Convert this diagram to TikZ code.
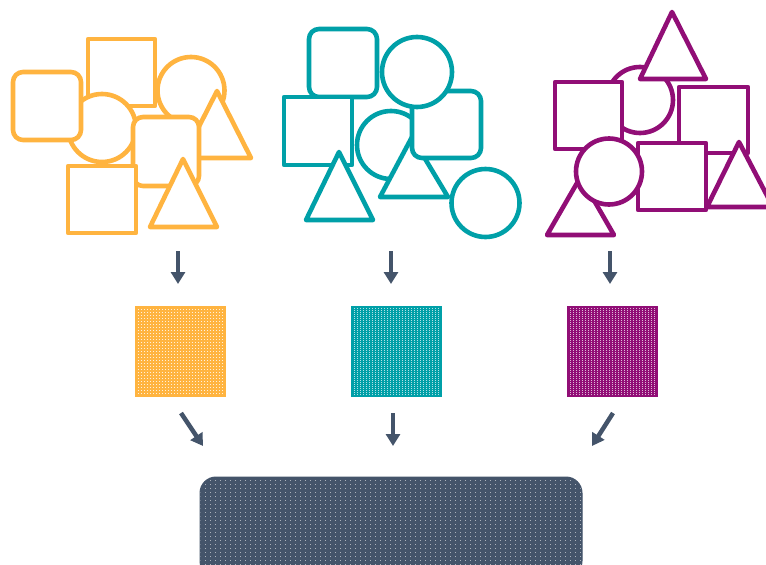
\documentclass[tikz,border=0pt]{standalone}
\usetikzlibrary{arrows.meta,patterns}
\definecolor{cOr}{HTML}{FFB440}
\definecolor{cTe}{HTML}{00A0A8}
\definecolor{cMa}{HTML}{910E76}
\definecolor{cNa}{HTML}{44546A}
\pgfdeclarepatternformonly{sqdots}{\pgfpoint{-1pt}{-1pt}}{\pgfpoint{3pt}{3pt}}{\pgfpoint{3pt}{3pt}}{\pgfpathrectangle{\pgfpoint{0pt}{0pt}}{\pgfpoint{1.4pt}{1.4pt}}\pgfusepath{fill}}
\pgfdeclarepatternformonly{vdots}{\pgfpoint{-1pt}{-1pt}}{\pgfpoint{3pt}{3pt}}{\pgfpoint{3pt}{2pt}}{\pgfpathrectangle{\pgfpoint{0pt}{0pt}}{\pgfpoint{1pt}{1pt}}\pgfusepath{fill}}
\pgfdeclarepatternformonly{sparsedots}{\pgfpoint{-1pt}{-1pt}}{\pgfpoint{5pt}{5pt}}{\pgfpoint{5pt}{4pt}}{\pgfpathrectangle{\pgfpoint{0pt}{0pt}}{\pgfpoint{1.2pt}{1.2pt}}\pgfusepath{fill}}
\begin{document}
\begin{tikzpicture}[x=1pt,y=-1pt,
  shp/.style={line width=4.6pt, fill=white, line join=round},
  orshp/.style={shp, draw=cOr},
  teshp/.style={shp, draw=cTe},
  mashp/.style={shp, draw=cMa},
  rnd/.style={rounded corners=10pt},
  flow/.style={draw=cNa, line width=4.5pt, -{Triangle[width=14pt,length=12pt]}},
  tile/.style={inner sep=0pt, minimum width=90pt, minimum height=90pt, line width=1pt},
]
\useasboundingbox (0,0) rectangle (766,565);
\clip (0,0) rectangle (766,565);

% ---------- orange group ----------
\draw[orshp] (88,39) rectangle (155,106);
\draw[orshp] (102,128) circle (34);
\draw[orshp,rnd] (13,72) rectangle (81,140);
\draw[orshp] (191,90.5) circle (33.5);
\draw[orshp] (217,91) -- (251,158) -- (183,158) -- cycle;
\draw[orshp,rnd] (133,117) rectangle (199,186);
\draw[orshp] (68,166) rectangle (136,233);
\draw[orshp] (183,159) -- (217,227) -- (150,227) -- cycle;

% ---------- teal group ----------
\draw[teshp,rnd] (309,29) rectangle (377,97);
\draw[teshp] (284,97) rectangle (352,165);
\draw[teshp] (339,152) -- (373,220) -- (306,220) -- cycle;
\draw[teshp] (391,145) circle (34);
\draw[teshp] (412,137) -- (448,197) -- (380,197) -- cycle;
\draw[teshp,rnd] (412,91) rectangle (481,158);
\draw[teshp] (417,72) circle (35);
\draw[teshp] (485.5,203) circle (34);

% ---------- magenta group ----------
\draw[mashp] (640,100) circle (33);
\draw[mashp] (672,12) -- (706,79) -- (640,79) -- cycle;
\draw[mashp] (555,82) rectangle (622,149);
\draw[mashp] (679,87) rectangle (748,153);
\draw[mashp] (638,143) rectangle (706,210);
\draw[mashp] (580.5,177) -- (614,235) -- (547,235) -- cycle;
\draw[mashp] (609,171.5) circle (33);
\draw[mashp] (739,142) -- (773,207) -- (707,207) -- cycle;

% ---------- middle tiles ----------
\node[tile, draw=cOr, preaction={fill=cOr}, pattern=sqdots, pattern color=white!80!cOr] (tOr) at (180.5,351) {};
\node[tile, draw=cTe, preaction={fill=cTe}, pattern=vdots, pattern color=white!70!cTe] (tTe) at (396,351) {};
\node[tile, draw=cMa, preaction={fill=cMa}, pattern=vdots, pattern color=white!70!cMa] (tMa) at (612,351) {};

% ---------- bottom box ----------
\node[inner sep=0pt, minimum width=382pt, minimum height=100pt, rounded corners=16pt,
      draw=cNa, line width=1pt, preaction={fill=cNa}, pattern=sparsedots, pattern color=white!55!cNa] (base) at (391,527) {};

% ---------- arrows ----------
\coordinate (a1s) at (178,251); \coordinate (a1e) at (178,284);
\coordinate (a2s) at (391,251); \coordinate (a2e) at (391,284);
\coordinate (a3s) at (610,251); \coordinate (a3e) at (610,284);
\coordinate (b1s) at (181,413); \coordinate (b1e) at (203,446);
\coordinate (b2s) at (393,413); \coordinate (b2e) at (393,446);
\coordinate (b3s) at (613,413); \coordinate (b3e) at (592,446);
\draw[flow] (a1s) -- (a1e);
\draw[flow] (a2s) -- (a2e);
\draw[flow] (a3s) -- (a3e);
\draw[flow] (b1s) -- (b1e);
\draw[flow] (b2s) -- (b2e);
\draw[flow] (b3s) -- (b3e);
\end{tikzpicture}
\end{document}
